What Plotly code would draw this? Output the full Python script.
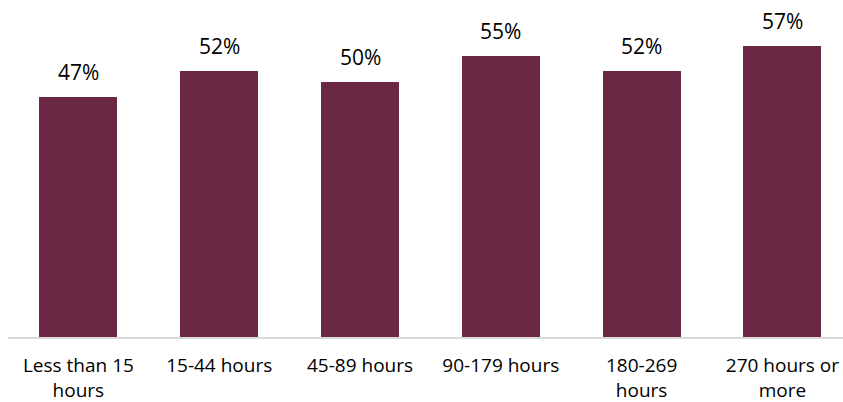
import plotly.graph_objects as go

categories = ["Less than 15<br>hours", "15-44 hours", "45-89 hours", "90-179 hours", "180-269<br>hours", "270 hours or<br>more"]
values = [47, 52, 50, 55, 52, 57]
labels = [f"{v}%" for v in values]

BAR_COLOR = "#6B2844"
FONT = "Open Sans"

fig = go.Figure()
fig.add_trace(go.Bar(
    x=list(range(len(categories))),
    y=values,
    marker=dict(color=BAR_COLOR, line=dict(width=0)),
    width=0.554,
    hoverinfo="skip",
))

for i, (v, t) in enumerate(zip(values, labels)):
    fig.add_annotation(x=i, y=v, text=t, showarrow=False, yanchor="bottom",
                       yshift=9, font=dict(family=FONT, size=21, color="#000000"))

fig.update_layout(
    width=843, height=402,
    margin=dict(l=8, r=0, t=0, b=65, autoexpand=False),
    paper_bgcolor="white", plot_bgcolor="white",
    showlegend=False,
    bargap=0,
    font=dict(family=FONT, size=19, color="#000000"),
)
fig.update_xaxes(
    tickmode="array", tickvals=list(range(len(categories))), ticktext=categories,
    range=[-0.5, -0.5 + 835 / 140.8],
    showgrid=False, zeroline=False, automargin=False,
    showline=True, linecolor="#D9D9D9", linewidth=2,
    ticks="outside", ticklen=10, tickcolor="rgba(0,0,0,0)",
    tickfont=dict(family=FONT, size=19, color="#000000"),
    fixedrange=True,
)
fig.update_yaxes(range=[0, 337 / 5.11], visible=False, fixedrange=True, automargin=False)

fig.write_html("out.html", config={"displayModeBar": False})
